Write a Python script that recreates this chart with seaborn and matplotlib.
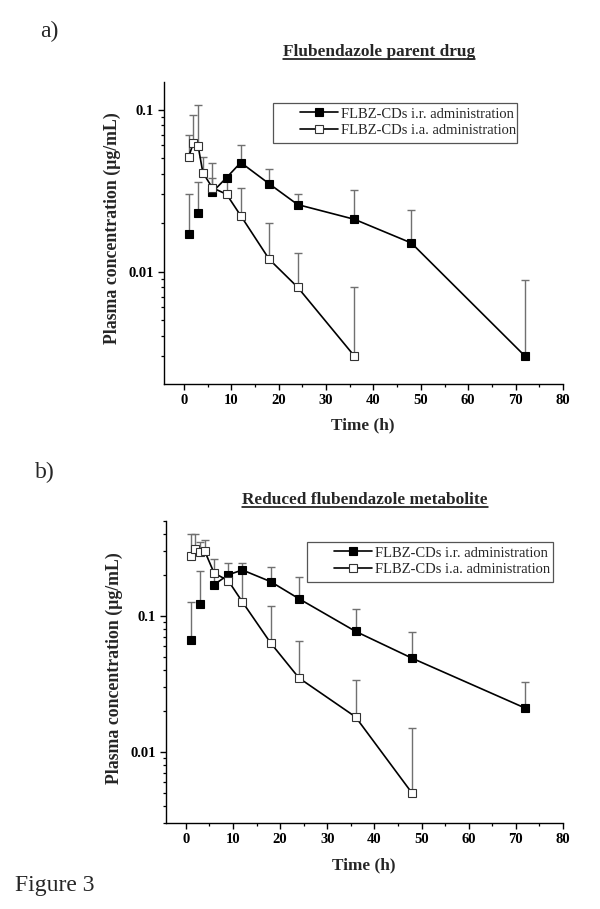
import numpy as np
import pandas as pd
import matplotlib
matplotlib.use("Agg")
import matplotlib.pyplot as plt
import matplotlib.ticker as mticker
from matplotlib.lines import Line2D
from matplotlib.patches import Rectangle
import seaborn as sns

# ---------------- data ----------------
series_labels = ["FLBZ-CDs i.r. administration", "FLBZ-CDs i.a. administration"]

# Panel a: Flubendazole parent drug
a_ir_time = [1, 3, 6, 9, 12, 18, 24, 36, 48, 72]
a_ir_conc = [0.0171, 0.0229, 0.0309, 0.038, 0.0471, 0.0348, 0.0259, 0.0210, 0.0150, 0.0030]
a_ir_upper = [0.030, 0.0358, 0.038, 0.039, 0.0605, 0.043, 0.030, 0.032, 0.0239, 0.0089]

a_ia_time = [1, 2, 3, 4, 6, 9, 12, 18, 24, 36]
a_ia_conc = [0.0511, 0.062, 0.0597, 0.0408, 0.0329, 0.030, 0.0221, 0.0119, 0.0080, 0.0030]
a_ia_upper = [0.0692, 0.0932, 0.106, 0.051, 0.0467, 0.038, 0.033, 0.020, 0.0130, 0.0080]

# Panel b: Reduced flubendazole metabolite
b_ir_time = [1, 3, 6, 9, 12, 18, 24, 36, 48, 72]
b_ir_conc = [0.0662, 0.123, 0.170, 0.201, 0.218, 0.179, 0.134, 0.0771, 0.0489, 0.0210]
b_ir_upper = [0.127, 0.213, 0.200, 0.245, 0.245, 0.228, 0.192, 0.112, 0.0767, 0.0327]

b_ia_time = [1, 2, 3, 4, 6, 9, 12, 18, 24, 36, 48]
b_ia_conc = [0.278, 0.311, 0.296, 0.301, 0.207, 0.182, 0.127, 0.0633, 0.035, 0.0181, 0.00497]
b_ia_upper = [0.398, 0.400, 0.348, 0.364, 0.262, 0.210, 0.220, 0.119, 0.0659, 0.0338, 0.0149]

# in the original, the i.r. curve is only joined by a line from 6 h onwards
ir_line_from = 6

titles = ["Flubendazole parent drug", "Reduced flubendazole metabolite"]
panel_tags = ["a)", "b)"]
x_ticks = [0, 10, 20, 30, 40, 50, 60, 70, 80]
y_ticks = [0.01, 0.1]
y_tick_labels = ["0.01", "0.1"]
x_label = "Time (h)"
y_label = "Plasma concentration (\u00b5g/mL)"
fig_caption = "Figure 3"

# ---------------- style ----------------
sns.set_style("ticks")
plt.rcParams["font.family"] = ["Liberation Serif", "DejaVu Serif"]
plt.rcParams["xtick.direction"] = "out"
plt.rcParams["ytick.direction"] = "out"

W, H = 600, 909
fig = plt.figure(figsize=(W / 100, H / 100), dpi=100)

def px_axes(left, right, top, bottom):
    return [left / W, 1 - bottom / H, (right - left) / W, (bottom - top) / H]

ax_a = fig.add_axes(px_axes(164, 563, 82, 384))
ax_b = fig.add_axes(px_axes(166, 563, 521, 823))

# legend handle start (pixels), legend frame box (pixels: left, top, right, bottom)
panels = [
    (ax_a, a_ir_time, a_ir_conc, a_ir_upper, a_ia_time, a_ia_conc, a_ia_upper,
     (0.00202, 0.148), (296, 103), (273, 103, 517, 143)),
    (ax_b, b_ir_time, b_ir_conc, b_ir_upper, b_ia_time, b_ia_conc, b_ia_upper,
     (0.0030, 0.50), (330, 542), (307, 542, 553, 582)),
]

ERR_COLOR = "#707070"
MS = 5.2

legends = []
for ax, t1, c1, u1, t2, c2, u2, ylim, leg_px, box_px in panels:
    df1 = pd.DataFrame({"time": t1, "conc": c1})
    df2 = pd.DataFrame({"time": t2, "conc": c2})
    # upper-only error bars
    for t, c, u in ((t1, c1, u1), (t2, c2, u2)):
        c = np.asarray(c); u = np.asarray(u)
        ax.errorbar(t, c, yerr=[np.zeros_like(c), u - c], fmt="none",
                    ecolor=ERR_COLOR, elinewidth=1.0, capsize=2.6, capthick=1.0, zorder=2)
    # i.r. : unconnected early points + connected curve
    early = df1[df1["time"] < ir_line_from]
    late = df1[df1["time"] >= ir_line_from]
    sns.lineplot(data=early, x="time", y="conc", ax=ax, estimator=None, color="black",
                 lw=0, marker="s", markersize=MS, markerfacecolor="black",
                 markeredgecolor="black", markeredgewidth=0.8, zorder=3, legend=False)
    sns.lineplot(data=late, x="time", y="conc", ax=ax, estimator=None, color="black",
                 lw=1.2, marker="s", markersize=MS, markerfacecolor="black",
                 markeredgecolor="black", markeredgewidth=0.8, label=series_labels[0], zorder=3)
    sns.lineplot(data=df2, x="time", y="conc", ax=ax, estimator=None, color="black",
                 lw=1.2, marker="s", markersize=MS, markerfacecolor="white",
                 markeredgecolor="#333333", markeredgewidth=0.8, label=series_labels[1], zorder=3)
    ax.set_yscale("log")
    ax.set_ylim(*ylim)
    ax.set_xlim(-4.2, 80)
    ax.set_xticks(x_ticks)
    ax.xaxis.set_minor_locator(mticker.MultipleLocator(5))
    ax.yaxis.set_major_locator(mticker.FixedLocator(y_ticks))
    ax.yaxis.set_major_formatter(mticker.FixedFormatter(y_tick_labels))
    ax.yaxis.set_minor_locator(mticker.LogLocator(base=10, subs=np.arange(2, 10)))
    ax.yaxis.set_minor_formatter(mticker.NullFormatter())
    ax.set_xlabel("")
    ax.set_ylabel("")
    for sp in ("top", "right"):
        ax.spines[sp].set_visible(False)
    for sp in ("left", "bottom"):
        ax.spines[sp].set_linewidth(1.0)
        ax.spines[sp].set_color("black")
    ax.tick_params(which="major", length=4.5, width=1.0, colors="black", labelsize=10.5, pad=3)
    ax.tick_params(which="minor", length=2.5, width=0.9, colors="black")
    for lab in ax.get_xticklabels() + ax.get_yticklabels():
        lab.set_fontweight("bold")
    leg = ax.legend(loc="upper left",
                    bbox_to_anchor=(leg_px[0] / W, 1 - leg_px[1] / H),
                    bbox_transform=fig.transFigure, frameon=False,
                    fontsize=10.5, handlelength=2.55, handletextpad=0.25, borderpad=0.3,
                    labelspacing=0.22, borderaxespad=0)
    legends.append(leg)
    l, tp, r, b = box_px
    fig.add_artist(Rectangle((l / W, 1 - b / H), (r - l) / W, (b - tp) / H,
                             transform=fig.transFigure, fill=False,
                             edgecolor="#555555", lw=0.9))
    ax.set_facecolor("white")

# ---------------- texts ----------------
fig.text(40 / W, 1 - 31 / H, panel_tags[0], fontsize=17, ha="left", va="center")
fig.text(35 / W, 1 - 472 / H, panel_tags[1], fontsize=17, ha="left", va="center")
fig.text(15 / W, 1 - 886 / H, fig_caption, fontsize=17, ha="left", va="center")

t_a = fig.text(379 / W, 1 - 52 / H, titles[0], fontsize=12.4, fontweight="bold", ha="center", va="center")
t_b = fig.text(365 / W, 1 - 500 / H, titles[1], fontsize=12.4, fontweight="bold", ha="center", va="center")

fig.text(363 / W, 1 - 425 / H, x_label, fontsize=12.4, fontweight="bold", ha="center", va="center")
fig.text(364 / W, 1 - 865 / H, x_label, fontsize=12.4, fontweight="bold", ha="center", va="center")

fig.text(112 / W, 1 - 228 / H, y_label, fontsize=12.8, fontweight="bold", rotation=90, ha="center", va="center")
fig.text(114 / W, 1 - 668 / H, y_label, fontsize=12.8, fontweight="bold", rotation=90, ha="center", va="center")

# underline titles
fig.canvas.draw()
renderer = fig.canvas.get_renderer()
for t in (t_a, t_b):
    bb = t.get_window_extent(renderer)
    y = bb.y0 + 1
    fig.add_artist(Line2D([bb.x0 / W, bb.x1 / W], [y / H, y / H],
                          transform=fig.transFigure, color="black", lw=1.1))

fig.savefig("out.png", dpi=100, facecolor="white")
